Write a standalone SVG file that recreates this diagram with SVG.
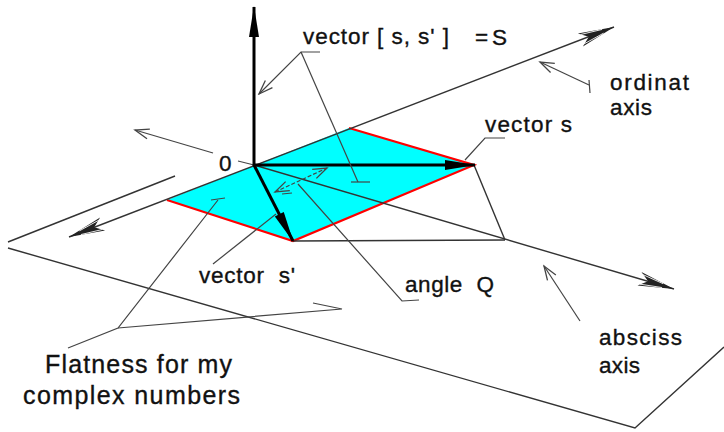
<svg xmlns="http://www.w3.org/2000/svg" width="724" height="432" viewBox="0 0 724 432">
<defs>
<style>
text{font-family:"Liberation Sans",Arial,sans-serif;font-size:22.5px;fill:#111;stroke:#111;stroke-width:0.35;white-space:pre}
.big{font-size:25px}
.ln{stroke:#333;stroke-width:1.4;fill:none}
.ld{stroke:#444;stroke-width:1.2;fill:none}
.vec{stroke:#000;stroke-width:3;fill:none}
</style>
<marker id="mBig" markerUnits="userSpaceOnUse" viewBox="-38 -8 40 16" markerWidth="40" markerHeight="16" refX="0" refY="0" orient="auto-start-reverse">
<path d="M0,0 L-36,-7 L-27,0 L-36,7 Z" fill="#222"/>
<path d="M-12,-2 L-34,-5 M-12,2 L-34,5" stroke="#fff" stroke-width="0.8"/>
</marker>
<marker id="mVec" markerUnits="userSpaceOnUse" viewBox="-32 -6 34 12" markerWidth="34" markerHeight="12" refX="0" refY="0" orient="auto">
<path d="M1,0 L-30,-5 L-30,5 Z" fill="#000"/>
</marker>
<marker id="mOpen" markerUnits="userSpaceOnUse" viewBox="-16 -7 18 14" markerWidth="18" markerHeight="14" refX="0" refY="0" orient="auto-start-reverse">
<path d="M-14,-5 L0,0 L-14,5" fill="none" stroke="#444" stroke-width="1.3"/>
</marker>
</defs>
<rect width="724" height="432" fill="#fff"/>

<g id="plane">
<path class="ln" d="M175,176 L8,242"/>
<path class="ln" d="M8,248 L635,428 L724,347"/>
</g>

<g id="parallelogram">
<polygon points="167,200 349,128 474,165 293,241" fill="#00FFFF"/>
<polyline points="349,128 474,165 293,241 167,200" fill="none" stroke="#FF0000" stroke-width="2.2"/>
</g>

<g id="connectors">
<line class="ln" x1="69" y1="237" x2="614" y2="27" marker-start="url(#mBig)" marker-end="url(#mBig)"/>
<line class="ln" x1="254" y1="165" x2="674" y2="289" marker-end="url(#mBig)"/>
<line class="ld" x1="213" y1="153" x2="135" y2="130" marker-end="url(#mOpen)"/>
<line class="ld" x1="238" y1="161" x2="254" y2="165"/>
<line class="ln" x1="474" y1="165" x2="505" y2="240"/>
<line class="ln" x1="293" y1="241" x2="505" y2="240"/>
<line class="vec" x1="254" y1="166" x2="254" y2="7" marker-end="url(#mVec)"/>
<line class="vec" x1="254" y1="165" x2="475" y2="165" stroke-width="2.5" marker-end="url(#mVec)"/>
<line class="vec" x1="254" y1="165" x2="293" y2="241" marker-end="url(#mVec)"/>
<line class="ld" x1="275" y1="192" x2="327" y2="168" stroke-dasharray="4 2" marker-start="url(#mOpen)" marker-end="url(#mOpen)"/>
<line class="ld" x1="282" y1="194" x2="292" y2="193"/>
<path class="ld" d="M320,52 L301,52 L259,94" marker-end="url(#mOpen)"/>
<path class="ld" d="M301,52 L358,182"/>
<line class="ld" x1="351" y1="182" x2="370" y2="182"/>
<path class="ld" d="M505,138 L485,138 L465,160"/>
<line class="ld" x1="589" y1="85" x2="540" y2="62" marker-end="url(#mOpen)"/>
<line class="ld" x1="589" y1="80" x2="590" y2="93"/>
<line class="ld" x1="213" y1="264" x2="276" y2="214"/>
<path class="ld" d="M298,184 L402,301 L419,300"/>
<line class="ld" x1="580" y1="321" x2="544" y2="266" marker-end="url(#mOpen)"/>
<path class="ld" d="M68,348 L118,328 L218,200"/>
<line class="ld" x1="211" y1="200" x2="225" y2="198"/>
<path class="ld" d="M118,328 L342,309 L313,303"/>
</g>

<g id="label-S"><text x="303" y="44" textLength="146" lengthAdjust="spacing">vector [ s, s' ]</text><text x="475" y="45" textLength="32" lengthAdjust="spacing">= S</text></g>
<g id="label-s"><text x="485" y="132" textLength="87" lengthAdjust="spacing">vector s</text></g>
<g id="label-ordinat"><text x="610" y="90" textLength="79" lengthAdjust="spacing">ordinat</text><text x="610" y="115" textLength="42" lengthAdjust="spacing">axis</text></g>
<g id="label-origin"><text x="219" y="171">0</text></g>
<g id="label-s-prime"><text x="199" y="283" textLength="96" lengthAdjust="spacing">vector  s'</text></g>
<g id="label-angle"><text x="405" y="292" textLength="89" lengthAdjust="spacing">angle  Q</text></g>
<g id="label-absciss"><text x="599" y="345" textLength="83" lengthAdjust="spacing">absciss</text><text x="599" y="373" textLength="41" lengthAdjust="spacing">axis</text></g>
<g id="label-flatness"><text class="big" x="45" y="373" textLength="187" lengthAdjust="spacing">Flatness for my</text><text class="big" x="23" y="404" textLength="217" lengthAdjust="spacing">complex numbers</text></g>
</svg>
